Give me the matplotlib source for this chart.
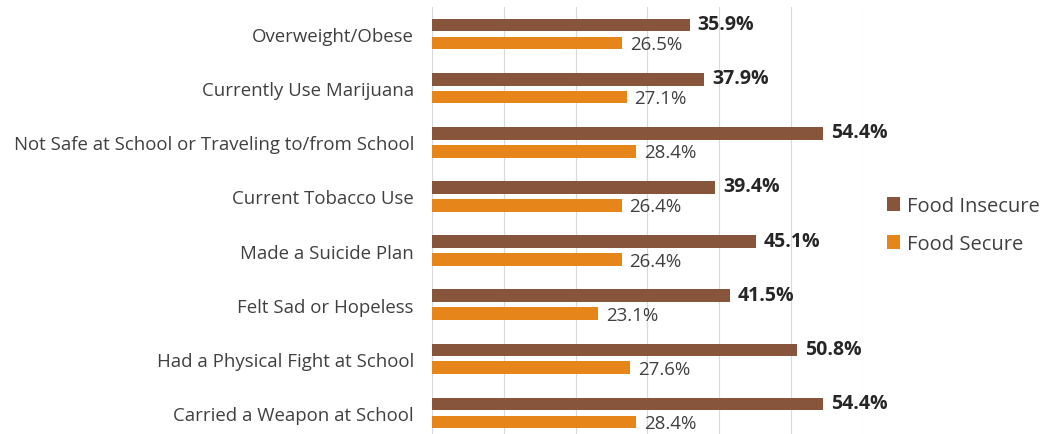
import numpy as np
import matplotlib.pyplot as plt

categories = [
    'Overweight/Obese',
    'Currently Use Marijuana',
    'Not Safe at School or Traveling to/from School',
    'Current Tobacco Use',
    'Made a Suicide Plan',
    'Felt Sad or Hopeless',
    'Had a Physical Fight at School',
    'Carried a Weapon at School',
]
insecure = [35.9, 37.9, 54.4, 39.4, 45.1, 41.5, 50.8, 54.4]
secure = [26.5, 27.1, 28.4, 26.4, 26.4, 23.1, 27.6, 28.4]

BROWN = '#87553B'
ORANGE = '#E6861A'
FONT = 'Open Sans'

fig = plt.figure(figsize=(10.49, 4.35), dpi=100)
ax = fig.add_axes([432 / 1049, 1 - 441 / 435, (863 - 432) / 1049, 433 / 435])

y = np.arange(len(categories))
h = 0.235
off = 0.165
ax.barh(y - off, insecure, height=h, color=BROWN, label='Food Insecure', zorder=3)
ax.barh(y + off, secure, height=h, color=ORANGE, label='Food Secure', zorder=3)

for yi, v in zip(y, insecure):
    ax.text(v + 1.1, yi - off - 0.02, f'{v:.1f}%', va='center', ha='left',
            fontsize=14, fontweight='bold', color='#262626', family=FONT)
for yi, v in zip(y, secure):
    ax.text(v + 1.1, yi + off + 0.02, f'{v:.1f}%', va='center', ha='left',
            fontsize=13.5, color='#404040', family=FONT)

ax.set_xlim(0, 60)
ax.set_ylim(len(categories) - 0.5, -0.5)
ax.set_xticks(np.arange(0, 61, 10))
ax.set_xticklabels([])
ax.tick_params(axis='x', length=0)
ax.tick_params(axis='y', length=0, pad=13)
ax.set_yticks(y)
ax.set_yticklabels(categories, fontsize=13.4, color='#404040', family=FONT)
ax.grid(axis='x', color='#D9D9D9', linewidth=0.8, zorder=0)
for s in ax.spines.values():
    s.set_visible(False)

handles, labels = ax.get_legend_handles_labels()
fig.legend(handles, labels, loc='center left', bbox_to_anchor=(869 / 1049, 1 - 226 / 435),
           frameon=False, prop={'family': FONT, 'size': 14.5}, labelcolor='#404040',
           handlelength=0.65, handleheight=0.65, handletextpad=0.35, labelspacing=0.88)

fig.savefig('out.png', dpi=100)
